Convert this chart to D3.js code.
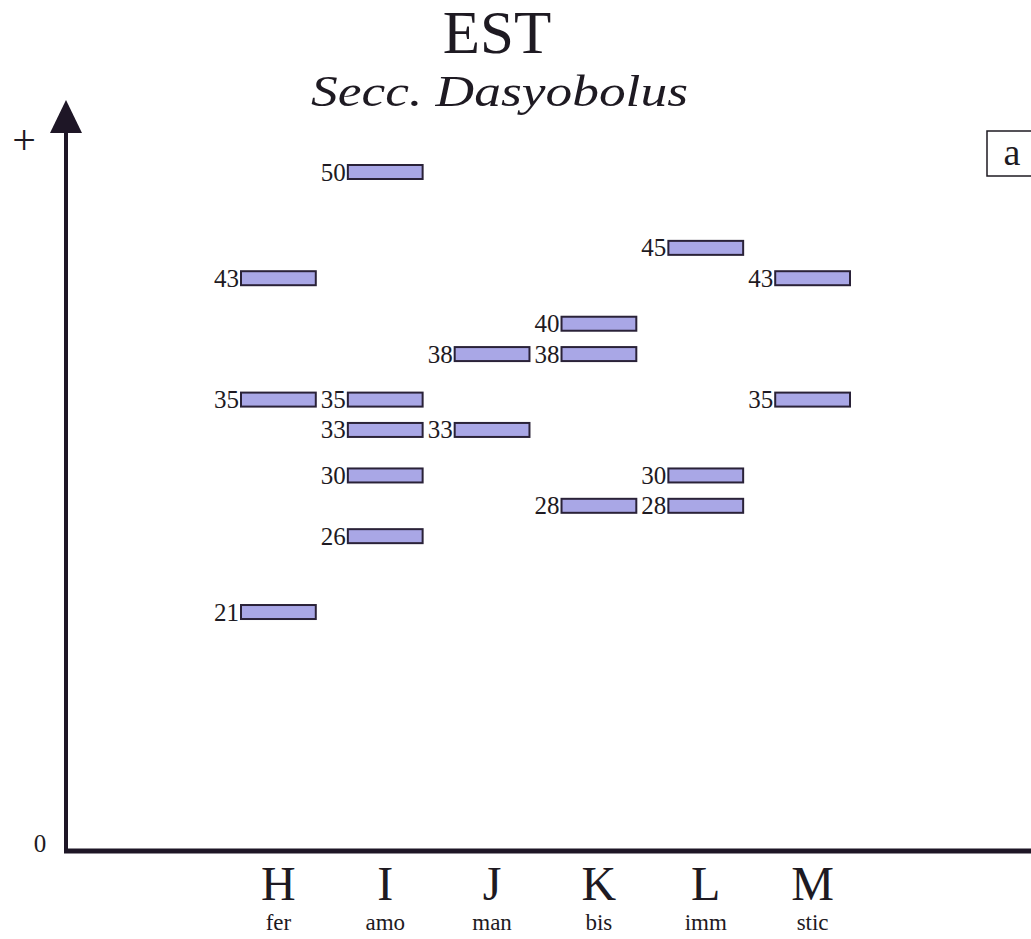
<!DOCTYPE html>
<html>
<head>
<meta charset="utf-8">
<script src="https://cdn.jsdelivr.net/npm/d3@7"></script>
<style>
  html, body { margin: 0; padding: 0; background: #fff; }
  svg { display: block; }
  text { font-family: "Liberation Serif", "DejaVu Serif", serif; fill: #1e1a22; }
</style>
</head>
<body>
<svg id="chart" width="1031" height="939"></svg>
<script>
// Taxa along the horizontal axis (letter code and epithet abbreviation)
const categories = ["H", "I", "J", "K", "L", "M"];
const epithets = ["fer", "amo", "man", "bis", "imm", "stic"];

// Recorded values for each taxon
const valuesH = [43, 35, 21];
const valuesI = [50, 35, 33, 30, 26];
const valuesJ = [38, 33];
const valuesK = [40, 38, 28];
const valuesL = [45, 30, 28];
const valuesM = [43, 35];

const seriesByCategory = [valuesH, valuesI, valuesJ, valuesK, valuesL, valuesM];

const bars = [];
categories.forEach((c, i) => seriesByCategory[i].forEach(v => bars.push({ cat: c, value: v })));

const svg = d3.select("#chart");

const x = d3.scaleBand()
  .domain(categories)
  .range([241, 850])
  .paddingInner(0.3)
  .paddingOuter(0);

const y = d3.scaleLinear()
  .domain([5.25, 50])
  .range([851, 172]);

// Titles
svg.append("text")
  .attr("x", 497).attr("y", 53)
  .attr("text-anchor", "middle")
  .attr("font-size", 61)
  .text("EST");

svg.append("text")
  .attr("x", 311).attr("y", 106)
  .attr("font-size", 45)
  .attr("font-style", "italic")
  .attr("textLength", 377)
  .attr("lengthAdjust", "spacingAndGlyphs")
  .text("Secc. Dasyobolus");

// Panel tag
svg.append("rect")
  .attr("x", 987).attr("y", 131)
  .attr("width", 60).attr("height", 45)
  .attr("fill", "#fff")
  .attr("stroke", "#1e1a22")
  .attr("stroke-width", 1.5);
svg.append("text")
  .attr("x", 1012).attr("y", 165)
  .attr("text-anchor", "middle")
  .attr("font-size", 38)
  .text("a");

// Axes
const axisColor = "#1e1626";
svg.append("line")
  .attr("x1", 64).attr("x2", 1031)
  .attr("y1", y(5.25)).attr("y2", y(5.25))
  .attr("stroke", axisColor)
  .attr("stroke-width", 5);

svg.append("line")
  .attr("x1", 66).attr("x2", 66)
  .attr("y1", y(5.25) + 2).attr("y2", 128)
  .attr("stroke", axisColor)
  .attr("stroke-width", 4);

svg.append("path")
  .attr("d", "M66,100 L50,133 L82,133 Z")
  .attr("fill", axisColor);

svg.append("text")
  .attr("x", 24).attr("y", 154)
  .attr("text-anchor", "middle")
  .attr("font-size", 42)
  .text("+");

svg.append("text")
  .attr("x", 40).attr("y", 852)
  .attr("text-anchor", "middle")
  .attr("font-size", 25)
  .text("0");

// Category labels
const labels = svg.append("g");
labels.selectAll("text.cat")
  .data(categories)
  .join("text")
  .attr("class", "cat")
  .attr("x", d => x(d) + x.bandwidth() / 2)
  .attr("y", 900)
  .attr("text-anchor", "middle")
  .attr("font-size", 48)
  .text(d => d);

labels.selectAll("text.epi")
  .data(epithets)
  .join("text")
  .attr("class", "epi")
  .attr("x", (d, i) => x(categories[i]) + x.bandwidth() / 2)
  .attr("y", 930)
  .attr("text-anchor", "middle")
  .attr("font-size", 23)
  .text(d => d);

// Bars with value labels
const barH = 14;
const g = svg.append("g");
g.selectAll("rect.bar")
  .data(bars)
  .join("rect")
  .attr("class", "bar")
  .attr("x", d => x(d.cat))
  .attr("y", d => y(d.value) - barH / 2)
  .attr("width", x.bandwidth())
  .attr("height", barH)
  .attr("fill", "#a9a7e6")
  .attr("stroke", "#2a2238")
  .attr("stroke-width", 2);

g.selectAll("text.val")
  .data(bars)
  .join("text")
  .attr("class", "val")
  .attr("x", d => x(d.cat) - 2)
  .attr("y", d => y(d.value) + 8.5)
  .attr("text-anchor", "end")
  .attr("font-size", 25)
  .text(d => d.value);
</script>
</body>
</html>
